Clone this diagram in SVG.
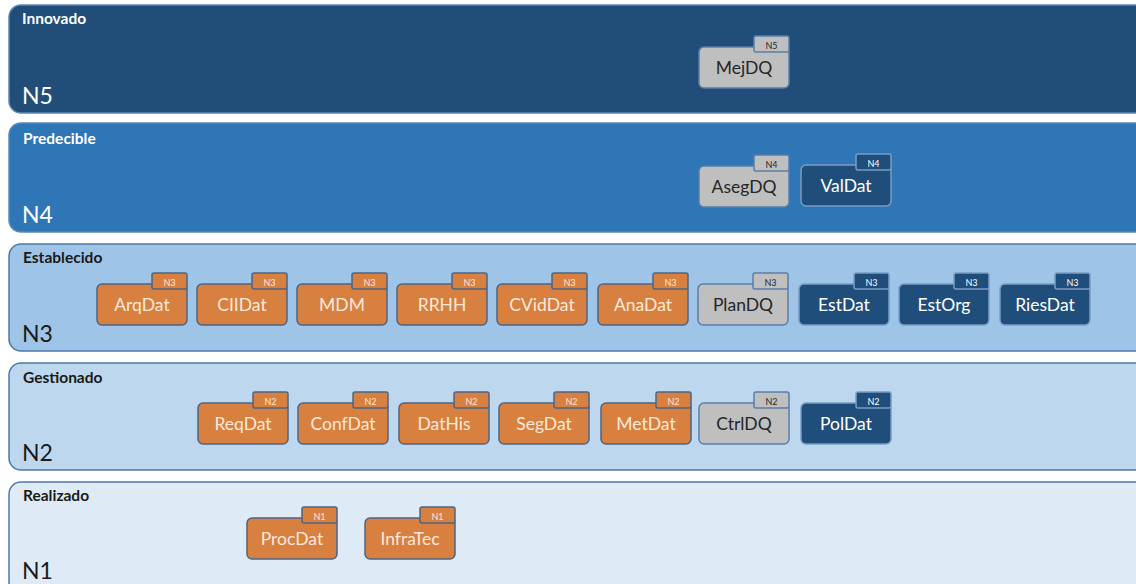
<svg xmlns="http://www.w3.org/2000/svg" width="1136" height="584" viewBox="0 0 1136 584">
<style>
.band{stroke-width:1.5}
.b5{fill:#214e79;stroke:#5f86b3}
.b4{fill:#2f76b7;stroke:#5f86b3}
.b3{fill:#9ec4e7;stroke:#4f77a8}
.b2{fill:#bdd7ee;stroke:#4f77a8}
.b1{fill:#deebf7;stroke:#4f77a8}
.title{font-family:Lato,"Liberation Sans",sans-serif;font-weight:bold;font-size:15.5px}
.lvl{font-family:Lato,"Liberation Sans",sans-serif;font-size:23px}
.lt{fill:#ffffff}
.dk{fill:#1a1a1a}
.lbl{font-family:Lato,"Liberation Sans",sans-serif;font-size:17.5px;text-anchor:middle}
.tag{font-family:Lato,"Liberation Sans",sans-serif;font-size:9px;text-anchor:middle}
.body,.tab{stroke-width:1.5}
.or .body,.or .tab{fill:#d8803f;stroke:#4d6484}
.or text{fill:#fbe8da}
.gr .body,.gr .tab{fill:#bfbfbf;stroke:#5b7ea8}
.gr text{fill:#262626}
.bl .body,.bl .tab{fill:#1f4e7b;stroke:#7b9cc4}
.bl text{fill:#ffffff}
</style>
<g id="bands">
<g id="band-n5"><rect class="band b5" x="9" y="5" width="1140" height="108" rx="12"/><text class="title lt" x="22" y="24">Innovado</text><text class="lvl lt" x="22" y="104">N5</text></g>
<g id="band-n4"><rect class="band b4" x="9" y="123" width="1140" height="109" rx="12"/><text class="title lt" x="23" y="144">Predecible</text><text class="lvl lt" x="22" y="223">N4</text></g>
<g id="band-n3"><rect class="band b3" x="9" y="244" width="1140" height="107" rx="12"/><text class="title dk" x="23" y="263">Establecido</text><text class="lvl dk" x="22" y="342">N3</text></g>
<g id="band-n2"><rect class="band b2" x="9" y="363" width="1140" height="107" rx="12"/><text class="title dk" x="23" y="383">Gestionado</text><text class="lvl dk" x="22" y="461">N2</text></g>
<g id="band-n1"><rect class="band b1" x="9" y="482" width="1140" height="112" rx="12"/><text class="title dk" x="23" y="501">Realizado</text><text class="lvl dk" x="22" y="579">N1</text></g>
</g>
<g id="nodes">
<g id="MejDQ" class="gr" transform="translate(699,47)"><rect class="body" width="90" height="41" rx="5"/><rect class="tab" x="55" y="-11" width="35" height="16" rx="2"/><text class="tag" x="72.5" y="2">N5</text><text class="lbl" x="45" y="27">MejDQ</text></g>
<g id="AsegDQ" class="gr" transform="translate(699,166)"><rect class="body" width="90" height="41" rx="5"/><rect class="tab" x="55" y="-11" width="35" height="16" rx="2"/><text class="tag" x="72.5" y="2">N4</text><text class="lbl" x="45" y="27">AsegDQ</text></g>
<g id="ValDat" class="bl" transform="translate(801,165)"><rect class="body" width="90" height="41" rx="5"/><rect class="tab" x="55" y="-11" width="35" height="16" rx="2"/><text class="tag" x="72.5" y="2">N4</text><text class="lbl" x="45" y="27">ValDat</text></g>
<g id="ArqDat" class="or" transform="translate(97,284)"><rect class="body" width="90" height="41" rx="5"/><rect class="tab" x="55" y="-11" width="35" height="16" rx="2"/><text class="tag" x="72.5" y="2">N3</text><text class="lbl" x="45" y="27">ArqDat</text></g>
<g id="CIIDat" class="or" transform="translate(197,284)"><rect class="body" width="90" height="41" rx="5"/><rect class="tab" x="55" y="-11" width="35" height="16" rx="2"/><text class="tag" x="72.5" y="2">N3</text><text class="lbl" x="45" y="27">CIIDat</text></g>
<g id="MDM" class="or" transform="translate(297,284)"><rect class="body" width="90" height="41" rx="5"/><rect class="tab" x="55" y="-11" width="35" height="16" rx="2"/><text class="tag" x="72.5" y="2">N3</text><text class="lbl" x="45" y="27">MDM</text></g>
<g id="RRHH" class="or" transform="translate(397,284)"><rect class="body" width="90" height="41" rx="5"/><rect class="tab" x="55" y="-11" width="35" height="16" rx="2"/><text class="tag" x="72.5" y="2">N3</text><text class="lbl" x="45" y="27">RRHH</text></g>
<g id="CVidDat" class="or" transform="translate(497,284)"><rect class="body" width="90" height="41" rx="5"/><rect class="tab" x="55" y="-11" width="35" height="16" rx="2"/><text class="tag" x="72.5" y="2">N3</text><text class="lbl" x="45" y="27">CVidDat</text></g>
<g id="AnaDat" class="or" transform="translate(598,284)"><rect class="body" width="90" height="41" rx="5"/><rect class="tab" x="55" y="-11" width="35" height="16" rx="2"/><text class="tag" x="72.5" y="2">N3</text><text class="lbl" x="45" y="27">AnaDat</text></g>
<g id="PlanDQ" class="gr" transform="translate(698,284)"><rect class="body" width="90" height="41" rx="5"/><rect class="tab" x="55" y="-11" width="35" height="16" rx="2"/><text class="tag" x="72.5" y="2">N3</text><text class="lbl" x="45" y="27">PlanDQ</text></g>
<g id="EstDat" class="bl" transform="translate(799,284)"><rect class="body" width="90" height="41" rx="5"/><rect class="tab" x="55" y="-11" width="35" height="16" rx="2"/><text class="tag" x="72.5" y="2">N3</text><text class="lbl" x="45" y="27">EstDat</text></g>
<g id="EstOrg" class="bl" transform="translate(899,284)"><rect class="body" width="90" height="41" rx="5"/><rect class="tab" x="55" y="-11" width="35" height="16" rx="2"/><text class="tag" x="72.5" y="2">N3</text><text class="lbl" x="45" y="27">EstOrg</text></g>
<g id="RiesDat" class="bl" transform="translate(1000,284)"><rect class="body" width="90" height="41" rx="5"/><rect class="tab" x="55" y="-11" width="35" height="16" rx="2"/><text class="tag" x="72.5" y="2">N3</text><text class="lbl" x="45" y="27">RiesDat</text></g>
<g id="ReqDat" class="or" transform="translate(198,403)"><rect class="body" width="90" height="41" rx="5"/><rect class="tab" x="55" y="-11" width="35" height="16" rx="2"/><text class="tag" x="72.5" y="2">N2</text><text class="lbl" x="45" y="27">ReqDat</text></g>
<g id="ConfDat" class="or" transform="translate(298,403)"><rect class="body" width="90" height="41" rx="5"/><rect class="tab" x="55" y="-11" width="35" height="16" rx="2"/><text class="tag" x="72.5" y="2">N2</text><text class="lbl" x="45" y="27">ConfDat</text></g>
<g id="DatHis" class="or" transform="translate(399,403)"><rect class="body" width="90" height="41" rx="5"/><rect class="tab" x="55" y="-11" width="35" height="16" rx="2"/><text class="tag" x="72.5" y="2">N2</text><text class="lbl" x="45" y="27">DatHis</text></g>
<g id="SegDat" class="or" transform="translate(499,403)"><rect class="body" width="90" height="41" rx="5"/><rect class="tab" x="55" y="-11" width="35" height="16" rx="2"/><text class="tag" x="72.5" y="2">N2</text><text class="lbl" x="45" y="27">SegDat</text></g>
<g id="MetDat" class="or" transform="translate(601,403)"><rect class="body" width="90" height="41" rx="5"/><rect class="tab" x="55" y="-11" width="35" height="16" rx="2"/><text class="tag" x="72.5" y="2">N2</text><text class="lbl" x="45" y="27">MetDat</text></g>
<g id="CtrlDQ" class="gr" transform="translate(699,403)"><rect class="body" width="90" height="41" rx="5"/><rect class="tab" x="55" y="-11" width="35" height="16" rx="2"/><text class="tag" x="72.5" y="2">N2</text><text class="lbl" x="45" y="27">CtrlDQ</text></g>
<g id="PolDat" class="bl" transform="translate(801,403)"><rect class="body" width="90" height="41" rx="5"/><rect class="tab" x="55" y="-11" width="35" height="16" rx="2"/><text class="tag" x="72.5" y="2">N2</text><text class="lbl" x="45" y="27">PolDat</text></g>
<g id="ProcDat" class="or" transform="translate(247,518)"><rect class="body" width="90" height="41" rx="5"/><rect class="tab" x="55" y="-11" width="35" height="16" rx="2"/><text class="tag" x="72.5" y="2">N1</text><text class="lbl" x="45" y="27">ProcDat</text></g>
<g id="InfraTec" class="or" transform="translate(365,518)"><rect class="body" width="90" height="41" rx="5"/><rect class="tab" x="55" y="-11" width="35" height="16" rx="2"/><text class="tag" x="72.5" y="2">N1</text><text class="lbl" x="45" y="27">InfraTec</text></g>
</g>
<g id="connectors"/>
</svg>
